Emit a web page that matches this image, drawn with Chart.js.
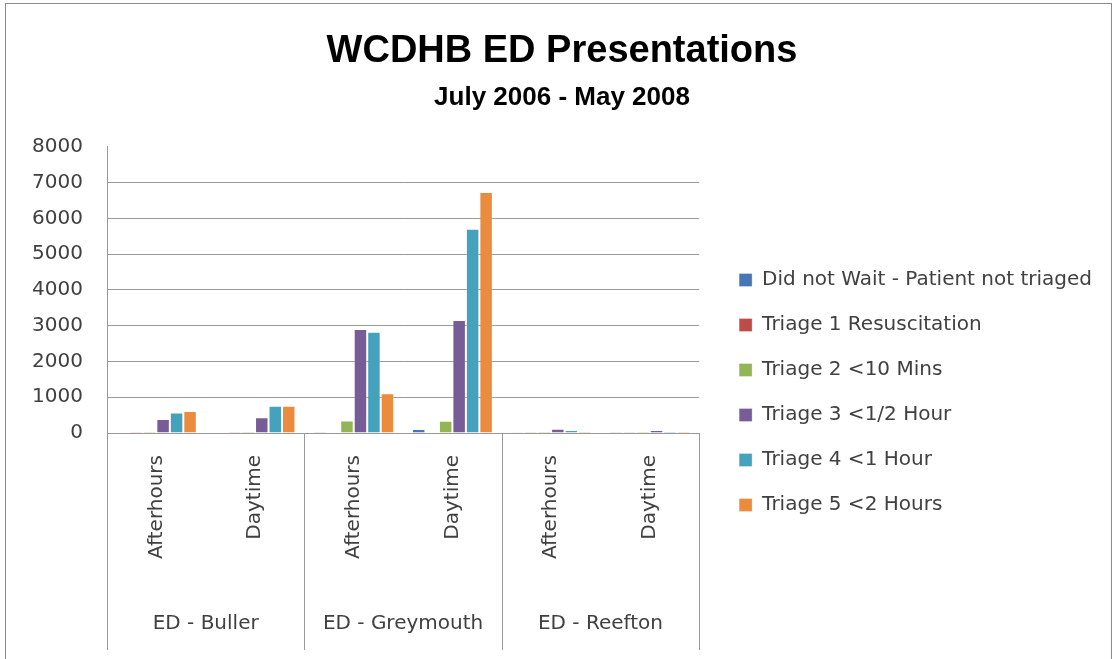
<!DOCTYPE html>
<html>
<head>
<meta charset="utf-8">
<title>WCDHB ED Presentations</title>
<script src="https://cdn.jsdelivr.net/npm/chart.js@4.4.1/dist/chart.umd.min.js"></script>
<style>
    html, body { margin: 0; padding: 0; background: #fff; }
    #wrap { width: 1114px; height: 659px; position: relative; }
</style>
</head>
<body>
<div id="wrap"><canvas id="edChart" width="1114" height="659"></canvas></div>
<script>
// Data
const categories = ['Afterhours', 'Daytime', 'Afterhours', 'Daytime', 'Afterhours', 'Daytime'];
const groups = ['ED - Buller', 'ED - Greymouth', 'ED - Reefton'];

const didNotWait = [8, 10, 30, 110, 4, 3];
const triage1 = [2, 2, 8, 10, 1, 1];
const triage2 = [40, 40, 350, 345, 45, 40];
const triage3 = [390, 440, 2905, 3160, 120, 85];
const triage4 = [570, 760, 2830, 5710, 85, 40];
const triage5 = [615, 760, 1110, 6740, 35, 40];

const yTicks = [0, 1000, 2000, 3000, 4000, 5000, 6000, 7000, 8000];

const seriesNames = [
    'Did not Wait - Patient not triaged',
    'Triage 1 Resuscitation',
    'Triage 2 <10 Mins',
    'Triage 3 <1/2 Hour',
    'Triage 4 <1 Hour',
    'Triage 5 <2 Hours'
];
const seriesColors = ['#4677B5', '#BE4B48', '#93B555', '#785C98', '#45A2BC', '#EA8B3E'];
const seriesData = [didNotWait, triage1, triage2, triage3, triage4, triage5];

const FONT = "'DejaVu Sans', Verdana, sans-serif";
const TEXT = '#404040';
const LINE = '#999999';

// Let the right-hand legend be as wide as its longest entry
// (Chart.js caps side boxes at a quarter of the width otherwise)
const wideLegend = {
    id: 'wideLegend',
    afterInit(chart) {
        const lg = chart.legend;
        if (!lg) return;
        const orig = lg.update.bind(lg);
        lg.update = (maxWidth, maxHeight, margins) => orig(600, maxHeight, margins);
    },
    afterLayout(chart) {
        // first legend row sits a bit above the 3000 gridline, like the original
        const lg = chart.legend;
        if (lg) lg.top = 245;
    }
};

// Outer frame + group separator lines under the category axis
const frameAndGroups = {
    id: 'frameAndGroups',
    beforeDraw(chart) {
        const ctx = chart.ctx;
        ctx.save();
        ctx.strokeStyle = '#8c8c8c';
        ctx.lineWidth = 1;
        ctx.strokeRect(5.5, 3.5, 1106, 700);
        ctx.restore();
    },
    afterDraw(chart) {
        const {ctx, chartArea, scales: {x}} = chart;
        const step = x.width / groups.length;
        ctx.save();
        ctx.strokeStyle = LINE;
        ctx.lineWidth = 1;
        for (let i = 0; i <= groups.length; i++) {
            const px = Math.round(x.left + i * step) + 0.5;
            ctx.beginPath();
            ctx.moveTo(px, chartArea.bottom);
            ctx.lineTo(px, 650);
            ctx.stroke();
        }
        ctx.restore();
    }
};

const ctx = document.getElementById('edChart').getContext('2d');
new Chart(ctx, {
    type: 'bar',
    data: {
        labels: categories,
        datasets: seriesNames.map((name, i) => ({
            label: name,
            data: seriesData[i],
            backgroundColor: seriesColors[i],
            borderColor: 'rgba(255,255,255,0.3)',
            borderWidth: 1,
            categoryPercentage: 0.82,
            barPercentage: 1.0
        }))
    },
    options: {
        responsive: false,
        animation: false,
        layout: {
            padding: { top: 10, left: 22, right: 12, bottom: 23 }
        },
        plugins: {
            title: {
                display: true,
                text: 'WCDHB ED Presentations',
                color: '#000',
                font: { family: "'Liberation Sans', Arial, sans-serif", size: 38, weight: 'bold' },
                padding: { top: 19, bottom: 8 }
            },
            subtitle: {
                display: true,
                text: 'July 2006 - May 2008',
                color: '#000',
                font: { family: "'Liberation Sans', Arial, sans-serif", size: 26, weight: 'bold' },
                padding: { top: 0, bottom: 33 }
            },
            legend: {
                position: 'right',
                align: 'start',
                labels: {
                    boxWidth: 13,
                    boxHeight: 13,
                    padding: 25,
                    color: TEXT,
                    font: { family: FONT, size: 20 }
                }
            },
            tooltip: { enabled: false }
        },
        scales: {
            x: {
                type: 'category',
                position: 'bottom',
                grid: { display: false, drawTicks: false },
                border: { display: true, color: LINE, width: 1 },
                ticks: {
                    color: TEXT,
                    font: { family: FONT, size: 20 },
                    minRotation: 90,
                    maxRotation: 90,
                    autoSkip: false,
                    padding: 22
                },
                afterFit: scale => {
                    scale.height = 127;
                    scale.paddingLeft = 0;
                    scale.paddingRight = 0;
                }
            },
            x2: {
                type: 'category',
                position: 'bottom',
                labels: groups,
                offset: true,
                weight: 1,
                grid: { display: false, drawTicks: false },
                border: { display: false },
                ticks: {
                    color: TEXT,
                    font: { family: FONT, size: 20 },
                    maxRotation: 0,
                    autoSkip: false,
                    padding: 52
                },
                afterFit: scale => {
                    scale.height = 76;
                    scale.paddingLeft = 0;
                    scale.paddingRight = 0;
                }
            },
            y: {
                min: 0,
                max: 8000,
                afterBuildTicks: scale => { scale.ticks = yTicks.map(v => ({ value: v })); },
                grid: {
                    drawTicks: false,
                    color: c => (c.tick && c.tick.value === 8000) ? 'rgba(0,0,0,0)' : LINE,
                    lineWidth: 1
                },
                border: { display: true, color: LINE, width: 1 },
                ticks: {
                    color: TEXT,
                    font: { family: FONT, size: 20 },
                    padding: 24,
                    autoSkip: false,
                    callback: v => String(v)
                },
                afterFit: scale => { scale.width = 85; }
            },
            gap: {
                type: 'linear',
                position: 'right',
                display: true,
                grid: { display: false, drawOnChartArea: false, drawTicks: false },
                border: { display: false },
                ticks: { display: false },
                afterFit: scale => { scale.width = 15; }
            }
        }
    },
    plugins: [wideLegend, frameAndGroups]
});
</script>
</body>
</html>
